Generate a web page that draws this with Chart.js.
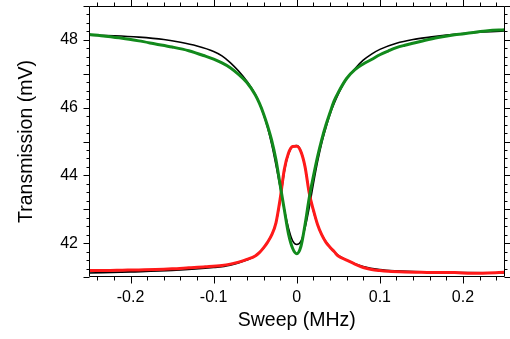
<!DOCTYPE html>
<html>
<head>
<meta charset="utf-8">
<script src="https://cdn.jsdelivr.net/npm/chart.js@4.4.1/dist/chart.umd.min.js"></script>
<style>
  html, body { margin: 0; padding: 0; background: #fff; }
  #wrap { width: 510px; height: 339px; }
</style>
</head>
<body>
<div id="wrap"><canvas id="chart"></canvas></div>
<script>
'use strict';

// ─── Data ─────────────────────────────────────────────────────────────────────

const greenX = [-0.25, -0.23, -0.21, -0.19, -0.17, -0.15, -0.13, -0.11, -0.10, -0.09, -0.08, -0.07, -0.06,
  -0.05, -0.045, -0.04, -0.035, -0.03, -0.025, -0.02, -0.015, -0.01, -0.005, 0, 0.005, 0.01, 0.015,
  0.02, 0.025, 0.03, 0.035, 0.04, 0.045, 0.05, 0.06, 0.07, 0.08, 0.09, 0.10, 0.11, 0.12, 0.13, 0.15, 0.17,
  0.19, 0.21, 0.23, 0.25];
const greenY = [48.16, 48.11, 48.05, 47.97, 47.88, 47.79, 47.68, 47.52, 47.43, 47.32, 47.18, 46.98, 46.74,
  46.38, 46.13, 45.82, 45.45, 45.02, 44.46, 43.72, 42.99, 42.28, 41.85, 41.69, 41.90, 42.55, 43.33,
  43.97, 44.55, 45.05, 45.48, 45.85, 46.20, 46.45, 46.86, 47.12, 47.29, 47.42, 47.56, 47.67, 47.77, 47.84, 47.96, 48.07,
  48.15, 48.21, 48.27, 48.30];

const redX = [-0.25, -0.23, -0.21, -0.19, -0.17, -0.15, -0.13, -0.11, -0.09, -0.08, -0.07, -0.06, -0.05,
  -0.045, -0.04, -0.035, -0.03, -0.025, -0.02, -0.015, -0.01, -0.005, 0, 0.005, 0.01, 0.015, 0.02,
  0.025, 0.03, 0.035, 0.04, 0.045, 0.05, 0.06, 0.07, 0.08, 0.09, 0.10, 0.11, 0.13, 0.15, 0.17, 0.19,
  0.21, 0.23, 0.25];
const redY = [41.19, 41.19, 41.20, 41.21, 41.22, 41.24, 41.27, 41.30, 41.34, 41.38, 41.44, 41.52, 41.62,
  41.72, 41.86, 42.03, 42.25, 42.60, 43.30, 44.17, 44.65, 44.85, 44.86, 44.70, 44.25, 43.48, 42.98,
  42.55, 42.25, 42.03, 41.88, 41.75, 41.62, 41.50, 41.38, 41.28, 41.22, 41.19, 41.17, 41.15, 41.14, 41.13, 41.13,
  41.11, 41.12, 41.14];

const dipFitX = [-0.25, -0.22, -0.19, -0.16, -0.14, -0.12, -0.10, -0.09, -0.08, -0.07, -0.06, -0.05, -0.045,
  -0.04, -0.035, -0.03, -0.025, -0.02, -0.015, -0.01, -0.005, 0, 0.005, 0.01, 0.015, 0.02, 0.025,
  0.03, 0.035, 0.04, 0.045, 0.05, 0.06, 0.07, 0.08, 0.09, 0.10, 0.12, 0.14, 0.16, 0.18, 0.20, 0.22, 0.25];
const dipFitY = [48.14, 48.12, 48.08, 48.01, 47.93, 47.82, 47.66, 47.53, 47.33, 47.08, 46.78, 46.40, 46.13,
  45.80, 45.40, 44.90, 44.30, 43.65, 43.00, 42.45, 42.07, 41.96, 42.05, 42.45, 43.05, 43.75, 44.40,
  44.95, 45.40, 45.80, 46.12, 46.40, 46.85, 47.15, 47.40, 47.58, 47.72, 47.90, 48.01, 48.08, 48.14, 48.19, 48.23, 48.26];

const peakFitX = [-0.25, -0.20, -0.15, -0.10, -0.08, -0.06, -0.05, -0.04, -0.03, -0.025, -0.02, -0.015, -0.01,
  -0.005, 0, 0.005, 0.01, 0.015, 0.02, 0.025, 0.03, 0.04, 0.05, 0.06, 0.07, 0.08, 0.10, 0.12, 0.15, 0.20, 0.25];
const peakFitY = [41.12, 41.15, 41.19, 41.28, 41.35, 41.50, 41.62, 41.85, 42.25, 42.60, 43.25, 44.10, 44.62,
  44.85, 44.88, 44.72, 44.25, 43.50, 42.95, 42.55, 42.25, 41.88, 41.64, 41.50, 41.39, 41.31, 41.22, 41.18, 41.15, 41.13, 41.12];

const xTicks = [-0.2, -0.1, 0, 0.1, 0.2];
const xTickLabels = ['-0.2', '-0.1', '0', '0.1', '0.2'];
const yTicks = [42, 44, 46, 48];
const yTickLabels = ['42', '44', '46', '48'];

const pts = (xs, ys) => xs.map((x, i) => ({ x, y: ys[i] }));

// ─── Frame + ticks (outward, major & minor on all four sides) ────────────────

const frameTicks = {
  id: 'frameTicks',
  afterDraw(chart) {
    const { ctx, chartArea: a, scales: { x, y } } = chart;
    const L = Math.round(a.left) + 0.5;
    const R = Math.round(a.right) - 0.5;
    const T = Math.round(a.top) + 0.5;
    const B = Math.round(a.bottom) - 0.5;
    ctx.save();
    ctx.strokeStyle = '#000';
    ctx.lineWidth = 1;
    ctx.beginPath();
    ctx.rect(L, T, R - L, B - T);

    for (let i = -12; i <= 12; i++) {
      const v = i * 0.02;
      const px = Math.round(x.getPixelForValue(v)) + 0.5;
      const len = i % 5 === 0 ? 7 : 4;
      ctx.moveTo(px, B); ctx.lineTo(px, B + len);
      ctx.moveTo(px, T); ctx.lineTo(px, T - len);
    }
    for (let i = 0; i <= 32; i++) {
      const v = 41 + i * 0.25;
      const py = Math.round(y.getPixelForValue(v)) + 0.5;
      const len = i % 4 === 0 ? 6 : 3;
      ctx.moveTo(L, py); ctx.lineTo(L - len, py);
      ctx.moveTo(R, py); ctx.lineTo(R + len, py);
    }
    ctx.stroke();
    ctx.restore();
  },
};

// ─── Chart ────────────────────────────────────────────────────────────────────

const FONT = '"Liberation Sans", Arial, Helvetica, sans-serif';

new Chart(document.getElementById('chart'), {
  type: 'line',
  data: {
    datasets: [
      {
        label: 'green',
        data: pts(greenX, greenY),
        borderColor: '#128a1c',
        borderWidth: 3,
        pointRadius: 0,
        cubicInterpolationMode: 'monotone',
      },
      {
        label: 'red',
        data: pts(redX, redY),
        borderColor: '#ff1a1a',
        borderWidth: 3,
        pointRadius: 0,
        cubicInterpolationMode: 'monotone',
      },
      {
        label: 'dip fit',
        data: pts(dipFitX, dipFitY),
        borderColor: '#000',
        borderWidth: 1.6,
        pointRadius: 0,
        cubicInterpolationMode: 'monotone',
      },
      {
        label: 'peak fit',
        data: pts(peakFitX, peakFitY),
        borderColor: '#000',
        borderWidth: 1.6,
        pointRadius: 0,
        cubicInterpolationMode: 'monotone',
      },
    ],
  },
  options: {
    responsive: true,
    maintainAspectRatio: false,
    animation: false,
    events: [],
    layout: { padding: { top: 6, right: 5.5, left: 0, bottom: 0 } },
    plugins: { legend: { display: false }, tooltip: { enabled: false } },
    scales: {
      x: {
        type: 'linear',
        min: -0.25,
        max: 0.25,
        afterBuildTicks: (s) => { s.ticks = xTicks.map((v) => ({ value: v })); },
        afterFit: (s) => { s.height = 62; s.paddingLeft = 0; s.paddingRight = 0; },
        grid: { display: false, drawTicks: false, tickLength: 0 },
        border: { display: false },
        ticks: {
          padding: 11,
          color: '#000',
          font: { family: FONT, size: 16 },
          maxRotation: 0,
          callback: (v) => xTickLabels[xTicks.indexOf(v)] ?? '',
        },
        title: {
          display: true,
          text: 'Sweep (MHz)',
          color: '#000',
          font: { family: FONT, size: 19.5 },
          padding: { top: 0, bottom: 7 },
        },
      },
      y: {
        type: 'linear',
        min: 41,
        max: 49,
        afterBuildTicks: (s) => { s.ticks = yTicks.map((v) => ({ value: v })); },
        afterFit: (s) => { s.width = 89; s.paddingTop = 0; s.paddingBottom = 0; },
        grid: { display: false, drawTicks: false, tickLength: 0 },
        border: { display: false },
        ticks: {
          padding: 11,
          color: '#000',
          font: { family: FONT, size: 16 },
          callback: (v) => yTickLabels[yTicks.indexOf(v)] ?? '',
        },
        title: {
          display: true,
          text: 'Transmission (mV)',
          color: '#000',
          font: { family: FONT, size: 19.5 },
          padding: { top: 15, bottom: 0 },
        },
      },
    },
  },
  plugins: [frameTicks],
});
</script>
</body>
</html>
